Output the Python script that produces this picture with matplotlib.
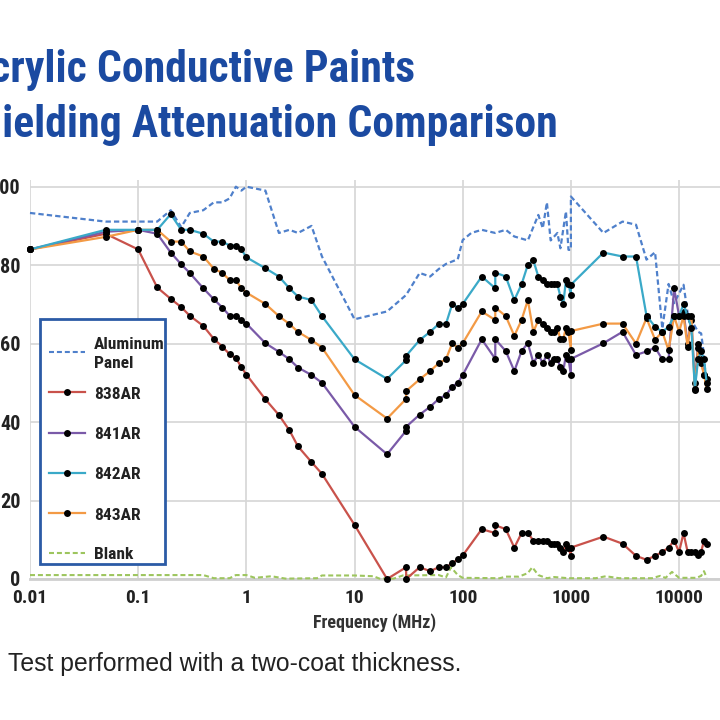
import matplotlib
matplotlib.use("Agg")
import matplotlib.pyplot as plt
from matplotlib import font_manager as fm
from matplotlib.lines import Line2D
from matplotlib.patches import Rectangle


def _has(name, minw=0):
    for f in fm.fontManager.ttflist:
        if f.name == name:
            w = f.weight if isinstance(f.weight, int) else fm.weight_dict.get(f.weight, 400)
            if w >= minw:
                return True
    return False


_prefs = ['Roboto Condensed', 'Archivo Narrow', 'PT Sans Narrow', 'Fira Sans Condensed',
          'IBM Plex Sans Condensed', 'Barlow Condensed', 'Encode Sans Condensed',
          'Asap Condensed', 'Sofia Sans Condensed', 'Liberation Sans Narrow', 'Oswald']
COND = next((p for p in _prefs if _has(p, 700)), None) or \
    next((p for p in _prefs if _has(p)), 'DejaVu Sans')
REG = 'Liberation Sans' if _has('Liberation Sans') else 'DejaVu Sans'
CF = [COND, 'DejaVu Sans']

# ---------------- data ----------------
freq = [0.01, 0.05, 0.1, 0.15, 0.2, 0.25, 0.3, 0.4, 0.5, 0.6,
        0.7, 0.8, 0.9, 1.0, 1.5, 2, 2.5, 3, 4, 5,
        10, 20, 30, 30, 40, 50, 60, 70, 80, 90,
        100, 150, 200, 200, 250, 300, 350, 400, 450, 500,
        550, 600, 650, 700, 750, 800, 850, 900, 950, 1000,
        1000, 2000, 3000, 4000, 5000, 6000, 7000, 8000, 9000, 10000,
        11000, 12000, 13000, 14000, 15000, 16000, 17000, 18000]

ar838 = [84, 88, 84, 74.3, 71.4, 69.3, 67.1, 64.5, 61.2, 59.2,
         57.3, 56.3, 54.0, 52.1, 45.8, 41.8, 37.9, 33.8, 29.8, 26.8,
         13.8, 0, 3, 0, 3, 2, 3, 3, 4, 5,
         6, 12.7, 11.7, 13.7, 12.7, 8, 11.7, 11.7, 9.8, 9.8,
         9.8, 9.8, 9, 9, 9, 8, 6.9, 9, 8, 5.9,
         8, 10.8, 9, 5.9, 4.9, 5.9, 6.9, 8, 9.8, 6.9,
         11.7, 6.9, 6.9, 6.9, 6, 6.9, 9.8, 9]

ar841 = [84, 88.5, 89, 88, 83.2, 80.2, 78, 74.1, 71.3, 69.2,
         67.1, 67.1, 66, 65.1, 60.1, 57.9, 56, 53.9, 52, 50,
         38.8, 31.8, 37.8, 38.8, 41.9, 43.9, 45.9, 46.9, 49, 50,
         52, 61.1, 56.1, 61.1, 58.1, 53, 58.1, 60.1, 55.1, 57.1,
         55.1, 57.1, 55.1, 56.1, 56.1, 54, 53, 57.1, 56.1, 52.1,
         56.1, 60.1, 63, 57.1, 58, 59, 56, 56, 74.1, 67.1,
         68, 60, 66, 50, 60, 56, 52, 51]

ar842 = [84, 89, 89, 89, 93, 89, 89, 88, 86, 86,
         85, 85, 84, 82, 79.2, 77.1, 74.1, 72, 71.1, 67,
         56, 51, 55.8, 56.9, 60.9, 63, 65, 65, 70.1, 69.2,
         70.1, 77.1, 74.1, 78.1, 77.1, 71.1, 75.1, 80.1, 81.2, 77.1,
         76.1, 75.1, 75.1, 75.1, 75.1, 72, 70.1, 76.1, 75.1, 72.5,
         75, 83.2, 82.2, 82.2, 67.1, 64.3, 63, 64.3, 67.1, 67.1,
         70, 67, 64, 48.5, 56, 58, 56, 50]

ar843 = [84, 87.2, 89, 89, 86, 86, 83.5, 82.2, 79.1, 78,
         76.2, 76.2, 74.1, 73, 70.1, 67, 65, 63, 60.9, 59,
         46.9, 40.9, 45.9, 47.9, 50.9, 53, 55, 56, 60.1, 59,
         60.1, 68.2, 66, 69.2, 67, 62, 66, 71.1, 63, 66,
         65, 64.1, 63, 63, 64.1, 61.1, 61.1, 64.1, 63, 58.4,
         63.2, 65.1, 65.1, 60, 66.5, 61, 63, 58.3, 67, 63,
         67, 59.2, 67, 48.2, 59, 55, 52, 48.5]

alu_freq = [0.01, 0.05, 0.15, 0.2, 0.25, 0.3, 0.4, 0.5, 0.6, 0.7,
            0.8, 0.9, 1.0, 1.5, 2, 2.5, 3, 4, 5, 10,
            20, 30, 40, 50, 60, 70, 90, 100, 120, 150,
            200, 250, 300, 400, 500, 550, 600, 650, 750, 800,
            900, 950, 1000, 1000, 2000, 3000, 4000, 5000, 6000, 7000,
            8000, 9000, 11000, 12000, 13000, 15000, 16000, 17000, 18000]
alu = [93.3, 91.1, 91.1, 94, 89.7, 93.3, 94, 96, 96, 97,
       100, 99, 100, 99, 88.2, 89, 88.2, 90, 82.2, 66.2,
       68.2, 72.4, 78, 77.1, 79, 80.3, 81.5, 86.4, 88.2, 89,
       88.2, 89, 87.3, 86.3, 92.8, 89.4, 96, 86.3, 88.2, 84.3,
       93.7, 83.9, 83.9, 97.5, 88.2, 91.1, 90.3, 81.4, 83.3, 63.8,
       75.2, 70.3, 75, 67.8, 66, 63, 62.6, 57, 48]

blank_freq = [0.01, 0.1, 0.4, 0.5, 0.7, 0.8, 1.0, 1.2, 1.7, 2.3,
              4.5, 5, 10, 15, 17, 23, 28, 60, 70, 78,
              90, 100, 220, 250, 330, 400, 440, 500, 600, 700,
              950, 1700, 2100, 2800, 5600, 6700, 7500, 8600, 10000, 14500,
              16000, 17000, 18000]
blank = [1, 1, 1, 0.2, 0.2, 1, 1, 0.3, 0.7, 0.1,
         0.2, 0.9, 0.9, 0.7, 0.1, 0.1, 0.9, 1, 0.4, 3,
         1, 0.3, 0.2, 0.6, 0.6, 1.5, 3, 1, 0.2, 0.5,
         0.2, 0.2, 0.7, 0.2, 0.2, 0.8, 0.3, 1.8, 0.3, 0.3,
         0.8, 2, 0.3]

xticks = [0.01, 0.1, 1, 10, 100, 1000, 10000]
xticklabels = ['0.01', '0.1', '1', '10', '100', '1000', '10000']
yticks = [0, 20, 40, 60, 80, 100]

title1 = 'Acrylic Conductive Paints'
title2 = 'Shielding Attenuation Comparison'
footnote = 'Test performed with a two-coat thickness.'
legend_labels = ['Aluminum\nPanel', '838AR', '841AR', '842AR', '843AR', 'Blank']

C_ALU = '#4f80cb'
C_838 = '#c9524b'
C_841 = '#7a5aa8'
C_842 = '#3aa9c8'
C_843 = '#f39a45'
C_BLANK = '#9dc55e'
TITLE_C = '#1b4aa1'

# ---------------- figure ----------------
W = H = 720
fig = plt.figure(figsize=(7.2, 7.2), dpi=100)
fig.patch.set_facecolor('white')
ax = fig.add_axes([30 / W, 1 - 579 / H, 690 / W, 399 / H])
ax.set_xscale('log')
ax.set_xlim(0.01, 23900)
ax.set_ylim(0, 101.7)

ax.grid(True, which='major', color='#d6d6d6', linewidth=1.2, zorder=0)
ax.minorticks_off()
for s in ['top', 'right', 'left']:
    ax.spines[s].set_visible(False)
ax.spines['bottom'].set_color('#cfcfcf')
ax.spines['bottom'].set_linewidth(2.0)

ax.set_xticks(xticks)
ax.set_xticklabels(xticklabels)
ax.set_yticks(yticks)
ax.tick_params(axis='both', length=0)
ax.tick_params(axis='x', pad=7)
ax.tick_params(axis='y', pad=7)
for lab in ax.get_xticklabels():
    lab.set_family(CF)
    lab.set_fontsize(14)
    lab.set_fontweight('semibold')
    lab.set_color('#222222')
for lab in ax.get_yticklabels():
    lab.set_family(CF)
    lab.set_fontsize(14.5)
    lab.set_fontweight('semibold')
    lab.set_color('#222222')

ax.set_xlabel('Frequency (MHz)', family=CF, fontsize=13,
              fontweight='bold', color='#333333', labelpad=5)

DASH = (2.4, 1.4)
ax.plot(alu_freq, alu, color=C_ALU, linewidth=1.6, dashes=DASH, zorder=3, clip_on=False)
ax.plot(blank_freq, blank, color=C_BLANK, linewidth=1.5, dashes=DASH, zorder=3, clip_on=False)

mk = dict(marker='o', markersize=5, markerfacecolor='black',
          markeredgecolor='black', markeredgewidth=0, linewidth=1.6, clip_on=False)
ax.plot(freq, ar838, color=C_838, zorder=4, **mk)
ax.plot(freq, ar841, color=C_841, zorder=4, **mk)
ax.plot(freq, ar843, color=C_843, zorder=5, **mk)
ax.plot(freq, ar842, color=C_842, zorder=6, **mk)

# ---------------- legend (drawn in figure pixels) ----------------
def fx(px):
    return px / W


def fy(py):
    return 1 - py / H


fig.add_artist(Rectangle((fx(40), fy(564)), fx(165) - fx(40), fy(319) - fy(564),
                         transform=fig.transFigure, facecolor='white',
                         edgecolor='#2b5ba6', linewidth=2.0, zorder=20))
leg_rows = [352, 392.5, 432.5, 472.5, 513, 552.5]
leg_styles = [
    dict(color=C_ALU, linewidth=1.5, dashes=DASH),
    dict(color=C_838, linewidth=1.6),
    dict(color=C_841, linewidth=1.6),
    dict(color=C_842, linewidth=1.6),
    dict(color=C_843, linewidth=1.6),
    dict(color=C_BLANK, linewidth=1.5, dashes=DASH),
]
leg_dots = [False, True, True, True, True, False]
for yrow, lab, sty, dot in zip(leg_rows, legend_labels, leg_styles, leg_dots):
    fig.add_artist(Line2D([fx(49), fx(85)], [fy(yrow), fy(yrow)], transform=fig.transFigure,
                          zorder=21, **sty))
    if dot:
        fig.add_artist(Line2D([fx(67)], [fy(yrow)], transform=fig.transFigure, zorder=22,
                              marker='o', markersize=5, markerfacecolor='black',
                              markeredgewidth=0, linestyle='none'))
    lines = lab.split('\n')
    if len(lines) == 1:
        fig.text(fx(94), fy(yrow + 6.5), lab, ha='left', va='baseline', family=CF,
                 fontsize=12.5, fontweight='bold', color='#222222', zorder=23)
    else:
        for k, part in enumerate(lines):
            fig.text(fx(94), fy(yrow - 9.5 + 19 * k + 6.5), part, ha='left', va='baseline',
                     family=CF, fontsize=12.5, fontweight='bold', color='#222222', zorder=23)

# ---------------- titles and footnote ----------------
renderer = fig.canvas.get_renderer()
probe = fig.text(0, 0, 'Conductive Paints', fontsize=40, family=CF, fontweight='bold')
pw = probe.get_window_extent(renderer).width
probe.remove()
tsize = max(26, min(40, 40 * 318 / pw))

fig.text(fx(415), fy(82), title1, ha='right', va='baseline',
         family=CF, fontweight='bold', fontsize=tsize, color=TITLE_C)
fig.text(fx(558), fy(137), title2, ha='right', va='baseline',
         family=CF, fontweight='bold', fontsize=tsize, color=TITLE_C)
fig.text(fx(8), fy(671), footnote, ha='left', va='baseline',
         family=[REG, 'DejaVu Sans'], fontsize=17.8, color='#222222')

fig.savefig('out.png', dpi=100, facecolor='white')
